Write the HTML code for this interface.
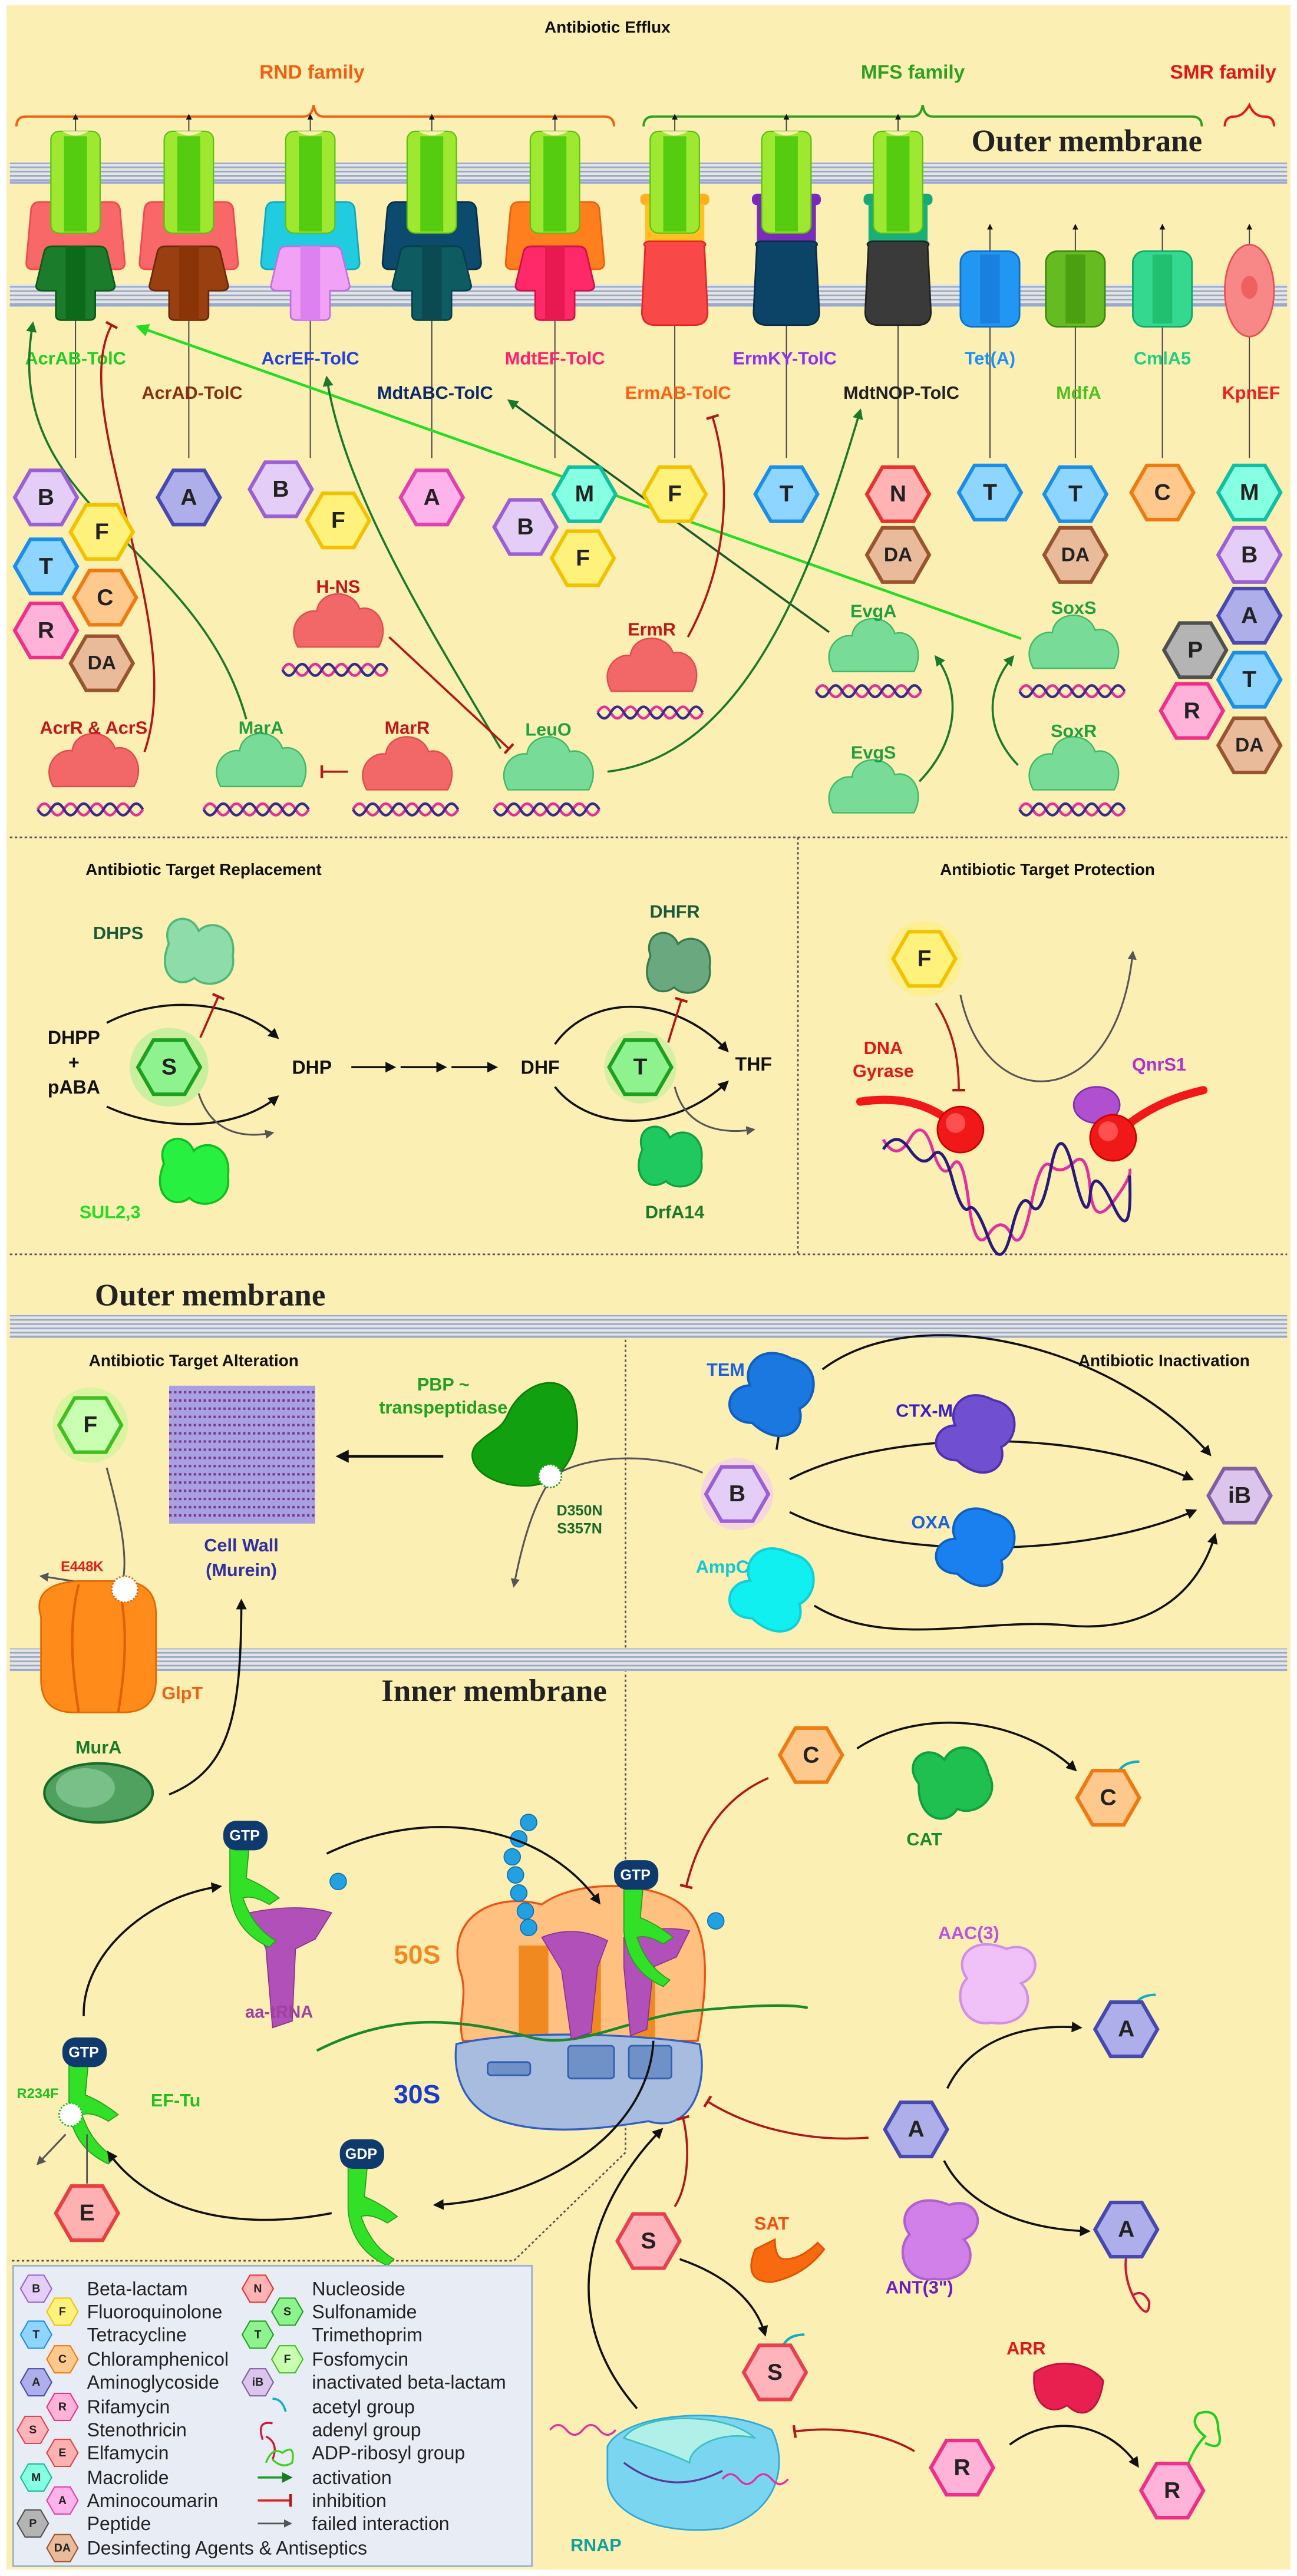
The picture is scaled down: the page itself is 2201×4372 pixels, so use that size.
<!DOCTYPE html>
<html><head><meta charset="utf-8"><style>
html,body{margin:0;padding:0;background:#fff}
svg{display:block}
text{font-family:"Liberation Sans Narrow","Liberation Sans",sans-serif;font-weight:bold}
.hB{fill:#e4cdf6;stroke:#9b5fd6}
.hF{fill:#fff27c;stroke:#f2c200}
.hT{fill:#8ed6ff;stroke:#1a8ee8}
.hC{fill:#ffc98e;stroke:#f07a12}
.hR{fill:#ffb3d9;stroke:#ef2f8a}
.hD{fill:#e9bb9a;stroke:#9a5530}
.hA{fill:#adaeea;stroke:#4849b0}
.hAc{fill:#ffb3ea;stroke:#e040b0}
.hM{fill:#86ffe2;stroke:#10c0a0}
.hN{fill:#ffb3b3;stroke:#e83030}
.hP{fill:#b4b4b4;stroke:#505050}
.hS{fill:#8ef28e;stroke:#20a020}
.hSt{fill:#ffb3bb;stroke:#e84050}
.hE{fill:#ffb0b0;stroke:#e84040}
.hI{fill:#dcc5ec;stroke:#8060a0}
.hFo{fill:#c8ffb0;stroke:#40c020}
.hx{stroke-width:2.2}
.ht{font-size:14px;fill:#222;text-anchor:middle;dominant-baseline:central}
.lbl{font-size:11px;text-anchor:middle}
.leg text{font-size:11.5px;fill:#222;font-weight:normal}
.ttl{font-size:10px;fill:#111}
</style></head><body>
<svg width="2201" height="4372" viewBox="0 0 790 1569" preserveAspectRatio="none" xmlns="http://www.w3.org/2000/svg">
<defs>
<path id="hx" d="M-19,0 L-9.5,-16.5 L9.5,-16.5 L19,0 L9.5,16.5 L-9.5,16.5 Z"/>
<pattern id="mem" width="4" height="2.6" patternUnits="userSpaceOnUse"><rect width="4" height="2.6" fill="#e6e6e0"/><rect y="0" width="4" height="1" fill="#9aa8cc"/></pattern>
<marker id="ak" viewBox="0 0 10 10" refX="8" refY="5" markerWidth="5" markerHeight="5" orient="auto"><path d="M0,0 L10,5 L0,10 Z" fill="#111"/></marker>
<marker id="ag" viewBox="0 0 10 10" refX="8" refY="5" markerWidth="5" markerHeight="5" orient="auto"><path d="M0,0 L10,5 L0,10 Z" fill="#1a7a2a"/></marker>
<marker id="al" viewBox="0 0 10 10" refX="8" refY="5" markerWidth="5" markerHeight="5" orient="auto"><path d="M0,0 L10,5 L0,10 Z" fill="#22dd22"/></marker>
<marker id="agr" viewBox="0 0 10 10" refX="8" refY="5" markerWidth="5" markerHeight="5" orient="auto"><path d="M0,0 L10,5 L0,10 Z" fill="#555"/></marker>
<marker id="bar" viewBox="0 0 10 10" refX="5" refY="5" markerWidth="6" markerHeight="6" orient="auto"><path d="M5,0 L5,10" stroke="#b01818" stroke-width="2"/></marker>
<path id="cloud" d="M-17,9 C-22,0 -15,-7 -9,-6 C-8,-15 6,-16 9,-7 C16,-9 22,0 17,9 Z"/>
<path id="enz" d="M-14,-4 C-18,-16 -4,-20 0,-10 C6,-16 18,-12 16,2 C18,14 4,18 -2,12 C-10,18 -20,10 -14,-4 Z"/>
<g id="dna"><path d="M-32,0 q4,-7 8,0 t8,0 t8,0 t8,0 t8,0 t8,0 t8,0 t8,0" fill="none" stroke="#e0309a" stroke-width="1.6"/><path d="M-32,0 q4,7 8,0 t8,0 t8,0 t8,0 t8,0 t8,0 t8,0 t8,0" fill="none" stroke="#3a2a8a" stroke-width="1.6"/></g>
<g id="tolc"><rect x="-15" y="80" width="30" height="62" rx="5" fill="#9ee832" stroke="#5cc010" stroke-width="0.8"/><rect x="-7" y="83" width="14" height="58" fill="#55cc10"/><path d="M-8,80 q8,5 16,0" fill="#fcefb4"/></g>
<g id="rndb"><path d="M-30,160 L-27,127 Q-26,123 -22,123 L22,123 Q26,123 27,127 L30,160 Q30,164 26,164 L-26,164 Q-30,164 -30,160 Z"/></g>
<g id="rndp"><path d="M-24,174 L-19,153 Q-18,150 -14,150 L14,150 Q18,150 19,153 L24,174 Q24,177 20,177 L12,177 L12,192 Q12,195 8,195 L-8,195 Q-12,195 -12,192 L-12,177 L-20,177 Q-24,177 -24,174 Z"/></g>
</defs>
<rect width="790" height="1569" fill="#fff"/>
<rect x="4" y="3" width="782" height="1562" fill="#fcefb4"/>

<!-- ========== EFFLUX ========== -->
<text x="370" y="20" class="ttl" text-anchor="middle">Antibiotic Efflux</text>
<text x="190" y="48" class="lbl" fill="#f06010" style="font-size:12px">RND family</text>
<text x="556" y="48" class="lbl" fill="#30a020" style="font-size:12px">MFS family</text>
<text x="745" y="48" class="lbl" fill="#e01818" style="font-size:12px">SMR family</text>
<path d="M10,77 q0,-6 6,-6 L185,71 q5,0 6,-7 q1,7 6,7 L368,71 q6,0 6,6" fill="none" stroke="#f06010" stroke-width="1.4"/>
<path d="M392,77 q0,-6 6,-6 L556,71 q5,0 6,-7 q1,7 6,7 L726,71 q6,0 6,6" fill="none" stroke="#30a020" stroke-width="1.4"/>
<path d="M746,77 q0,-6 6,-6 q5,0 9,-7 q3,7 9,7 q6,0 6,6" fill="none" stroke="#e01818" stroke-width="1.4"/>
<text x="662" y="92" style="font-family:'Liberation Serif',serif;font-size:19px" text-anchor="middle" fill="#222">Outer membrane</text>
<rect x="6" y="99" width="778" height="13" fill="url(#mem)"/>
<rect x="6" y="110.5" width="778" height="1.2" fill="#9aa8cc"/>
<rect x="6" y="173" width="778" height="14" fill="url(#mem)"/>
<rect x="6" y="185.5" width="778" height="1.2" fill="#9aa8cc"/>

<g stroke="#444" stroke-width="0.7" fill="none">
<path d="M46,279 V70" marker-end="url(#ak)"/><path d="M115,279 V70" marker-end="url(#ak)"/><path d="M189,279 V70" marker-end="url(#ak)"/><path d="M263,279 V70" marker-end="url(#ak)"/><path d="M338,279 V70" marker-end="url(#ak)"/><path d="M411,279 V70" marker-end="url(#ak)"/><path d="M479,279 V70" marker-end="url(#ak)"/><path d="M547,279 V70" marker-end="url(#ak)"/>
<path d="M603,279 V137" marker-end="url(#ak)"/><path d="M655,279 V137" marker-end="url(#ak)"/><path d="M708,279 V137" marker-end="url(#ak)"/><path d="M761,279 V137" marker-end="url(#ak)"/>
</g>
<g transform="translate(46,0)"><use href="#rndb" fill="#f86868" stroke="#f04a4a"/><use href="#tolc"/><use href="#rndp" fill="#1b7d2b" stroke="#0d5a1a"/><rect x="-6" y="150" width="12" height="45" fill="#0d6a1a"/></g>
<g transform="translate(115,0)"><use href="#rndb" fill="#f86868" stroke="#f04a4a"/><use href="#tolc"/><use href="#rndp" fill="#9a4010" stroke="#6a2a08"/><rect x="-6" y="150" width="12" height="45" fill="#8a3408"/></g>
<g transform="translate(189,0)"><use href="#rndb" fill="#22cce0" stroke="#10a8c0"/><use href="#tolc"/><use href="#rndp" fill="#f2a2f6" stroke="#c070e0"/><rect x="-6" y="150" width="12" height="45" fill="#dd80f0"/></g>
<g transform="translate(263,0)"><use href="#rndb" fill="#0c4a6e" stroke="#08304a"/><use href="#tolc"/><use href="#rndp" fill="#0e5c62" stroke="#08404a"/><rect x="-6" y="150" width="12" height="45" fill="#0a4a50"/></g>
<g transform="translate(338,0)"><use href="#rndb" fill="#ff7e1e" stroke="#e86010"/><use href="#tolc"/><use href="#rndp" fill="#ff2868" stroke="#d01048"/><rect x="-6" y="150" width="12" height="45" fill="#e81850"/></g>
<g transform="translate(411,0)"><rect x="-21" y="118" width="42" height="7" rx="3" fill="#ffb01e"/><path d="M-18,124 h36 v28 h-36 Z" fill="#ffc020"/><use href="#tolc"/><path d="M-18,150 Q-20,148 -16,147 h32 q4,1 2,3 L20,190 q0,8 -8,8 h-24 q-8,0 -8,-8 Z" fill="#f84848" stroke="#e02828"/></g>
<g transform="translate(479,0)"><rect x="-21" y="118" width="42" height="7" rx="3" fill="#7a28c0"/><path d="M-18,124 h36 v28 h-36 Z" fill="#7a2eb8"/><use href="#tolc"/><path d="M-18,150 Q-20,148 -16,147 h32 q4,1 2,3 L20,190 q0,8 -8,8 h-24 q-8,0 -8,-8 Z" fill="#0c4468" stroke="#082c48"/></g>
<g transform="translate(547,0)"><rect x="-21" y="118" width="42" height="7" rx="3" fill="#1aa878"/><path d="M-18,124 h36 v28 h-36 Z" fill="#18b078"/><use href="#tolc"/><path d="M-18,150 Q-20,148 -16,147 h32 q4,1 2,3 L20,190 q0,8 -8,8 h-24 q-8,0 -8,-8 Z" fill="#3a3a3a" stroke="#222"/></g>
<rect x="585" y="153" width="36" height="46" rx="7" fill="#2196f3" stroke="#0a70c8"/><rect x="597" y="155" width="12" height="42" fill="#1a80e0"/>
<rect x="637" y="153" width="36" height="46" rx="7" fill="#66bb22" stroke="#3a8a10"/><rect x="649" y="155" width="12" height="42" fill="#4aa010"/>
<rect x="690" y="153" width="36" height="46" rx="7" fill="#34d88e" stroke="#10a868"/><rect x="702" y="155" width="12" height="42" fill="#20c070"/>
<ellipse cx="761" cy="177" rx="15" ry="28" fill="#f88888" stroke="#e85050"/><ellipse cx="761" cy="175" rx="5" ry="7" fill="#f06060"/>

<text x="46" y="222" class="lbl" fill="#22cc22">AcrAB-TolC</text>
<text x="117" y="243" class="lbl" fill="#8a3010">AcrAD-TolC</text>
<text x="189" y="222" class="lbl" fill="#2040e0">AcrEF-TolC</text>
<text x="265" y="243" class="lbl" fill="#0a2a6a">MdtABC-TolC</text>
<text x="338" y="222" class="lbl" fill="#ff2070">MdtEF-TolC</text>
<text x="413" y="243" class="lbl" fill="#ff6010">ErmAB-TolC</text>
<text x="478" y="222" class="lbl" fill="#9030f0">ErmKY-TolC</text>
<text x="549" y="243" class="lbl" fill="#222">MdtNOP-TolC</text>
<text x="603" y="222" class="lbl" fill="#1a90ff">Tet(A)</text>
<text x="657" y="243" class="lbl" fill="#50c020">MdfA</text>
<text x="708" y="222" class="lbl" fill="#20d080">CmlA5</text>
<text x="762" y="243" class="lbl" fill="#f02020">KpnEF</text>

<g fill="none" stroke-width="1.3">
<path d="M150,438 C120,330 0,310 20,197" stroke="#1a7a2a" marker-end="url(#ag)"/>
<path d="M88,458 C115,380 40,250 68,198" stroke="#b01818" marker-end="url(#bar)"/>
<path d="M622,389 L84,199" stroke="#22dd22" stroke-width="1.6" marker-end="url(#al)"/>
<path d="M505,385 L310,244" stroke="#1a5a2a" marker-end="url(#ag)"/>
<path d="M305,456 C260,380 210,300 199,230" stroke="#1a7a2a" marker-end="url(#ag)"/>
<path d="M370,470 C460,460 500,330 524,250" stroke="#1a7a2a" marker-end="url(#ag)"/>
<path d="M237,388 L310,456" stroke="#b01818" marker-end="url(#bar)"/>
<path d="M212,470 L196,470" stroke="#b01818" marker-end="url(#bar)"/>
<path d="M419,388 C445,340 445,290 434,254" stroke="#b01818" marker-end="url(#bar)"/>
<path d="M560,476 C585,450 585,420 570,400" stroke="#1a7a2a" marker-end="url(#ag)"/>
<path d="M620,466 C600,445 600,420 617,400" stroke="#1a7a2a" marker-end="url(#ag)"/>
</g>

<g fill="#f26868" stroke="#e04c4c" stroke-width="0.6">
<use href="#cloud" transform="translate(206,381) scale(1.45)"/><use href="#cloud" transform="translate(397,408) scale(1.45)"/><use href="#cloud" transform="translate(57,466) scale(1.45)"/><use href="#cloud" transform="translate(248,468) scale(1.45)"/></g>
<g fill="#78dc98" stroke="#40b868" stroke-width="0.6">
<use href="#cloud" transform="translate(532,396) scale(1.45)"/><use href="#cloud" transform="translate(654,394) scale(1.45)"/><use href="#cloud" transform="translate(159,466) scale(1.45)"/><use href="#cloud" transform="translate(334,468) scale(1.45)"/><use href="#cloud" transform="translate(532,482) scale(1.45)"/><use href="#cloud" transform="translate(654,468) scale(1.45)"/></g>
<use href="#dna" x="204" y="408"/><use href="#dna" x="396" y="434"/><use href="#dna" x="529" y="421"/><use href="#dna" x="653" y="421"/><use href="#dna" x="55" y="493"/><use href="#dna" x="156" y="493"/><use href="#dna" x="247" y="493"/><use href="#dna" x="333" y="493"/><use href="#dna" x="653" y="493"/>
<g class="lbl" style="font-size:11px">
<text x="206" y="361" fill="#c01818">H-NS</text><text x="397" y="387" fill="#c01818">ErmR</text><text x="532" y="376" fill="#20a040">EvgA</text><text x="654" y="374" fill="#20a040">SoxS</text>
<text x="57" y="447" fill="#c01818">AcrR &amp; AcrS</text><text x="159" y="447" fill="#20a040">MarA</text><text x="248" y="447" fill="#c01818">MarR</text><text x="334" y="448" fill="#20a040">LeuO</text><text x="532" y="462" fill="#20a040">EvgS</text><text x="654" y="449" fill="#20a040">SoxR</text>
</g>

<g class="hx">
<use href="#hx" x="28" y="303" class="hB"/><use href="#hx" x="62" y="324" class="hF"/><use href="#hx" x="28" y="345" class="hT"/><use href="#hx" x="64" y="364" class="hC"/><use href="#hx" x="28" y="384" class="hR"/><use href="#hx" x="62" y="404" class="hD"/>
<use href="#hx" x="115" y="303" class="hA"/><use href="#hx" x="171" y="298" class="hB"/><use href="#hx" x="206" y="317" class="hF"/><use href="#hx" x="263" y="303" class="hAc"/>
<use href="#hx" x="356" y="301" class="hM"/><use href="#hx" x="320" y="321" class="hB"/><use href="#hx" x="355" y="340" class="hF"/>
<use href="#hx" x="411" y="301" class="hF"/><use href="#hx" x="479" y="301" class="hT"/><use href="#hx" x="547" y="301" class="hN"/><use href="#hx" x="547" y="338" class="hD"/>
<use href="#hx" x="603" y="300" class="hT"/><use href="#hx" x="655" y="301" class="hT"/><use href="#hx" x="655" y="338" class="hD"/><use href="#hx" x="708" y="300" class="hC"/>
<use href="#hx" x="761" y="300" class="hM"/><use href="#hx" x="761" y="338" class="hB"/><use href="#hx" x="761" y="375" class="hA"/><use href="#hx" x="728" y="396" class="hP"/><use href="#hx" x="761" y="414" class="hT"/><use href="#hx" x="726" y="433" class="hR"/><use href="#hx" x="761" y="454" class="hD"/>
</g>
<g class="ht">
<text x="28" y="303">B</text><text x="62" y="324">F</text><text x="28" y="345">T</text><text x="64" y="364">C</text><text x="28" y="384">R</text><text x="62" y="404" style="font-size:12px">DA</text>
<text x="115" y="303">A</text><text x="171" y="298">B</text><text x="206" y="317">F</text><text x="263" y="303">A</text>
<text x="356" y="301">M</text><text x="320" y="321">B</text><text x="355" y="340">F</text>
<text x="411" y="301">F</text><text x="479" y="301">T</text><text x="547" y="301">N</text><text x="547" y="338" style="font-size:12px">DA</text>
<text x="603" y="300">T</text><text x="655" y="301">T</text><text x="655" y="338" style="font-size:12px">DA</text><text x="708" y="300">C</text>
<text x="761" y="300">M</text><text x="761" y="338">B</text><text x="761" y="375">A</text><text x="728" y="396">P</text><text x="761" y="414">T</text><text x="726" y="433">R</text><text x="761" y="454" style="font-size:12px">DA</text>
</g>

<g stroke="#555" stroke-width="1" stroke-dasharray="1.5,1.5" fill="none">
<path d="M6,510 H784"/><path d="M486,510 V764"/><path d="M6,764 H784"/>
<path d="M381,801 V1311 L313,1377 H6"/>
</g>

<text x="124" y="533" class="ttl" text-anchor="middle">Antibiotic Target Replacement</text>
<text x="638" y="533" class="ttl" text-anchor="middle">Antibiotic Target Protection</text>
<use href="#enz" transform="translate(121,580) scale(1.3)" fill="#8edcaa" stroke="#50b878"/>
<use href="#enz" transform="translate(413,587) scale(1.2)" fill="#6aa880" stroke="#3a7a50"/>
<use href="#enz" transform="translate(118,714) scale(1.3)" fill="#28f040" stroke="#10c020"/>
<use href="#enz" transform="translate(408,705) scale(1.2)" fill="#20c860" stroke="#10a040"/>
<g class="lbl" style="font-size:11px">
<text x="72" y="572" fill="#1a5a3a">DHPS</text><text x="411" y="559" fill="#1a5a3a">DHFR</text><text x="67" y="742" fill="#22dd22">SUL2,3</text><text x="411" y="742" fill="#1a7a2a">DrfA14</text>
</g>
<g class="lbl" style="font-size:11.5px" fill="#111">
<text x="45" y="636">DHPP</text><text x="45" y="651">+</text><text x="45" y="666">pABA</text><text x="190" y="654">DHP</text><text x="329" y="654">DHF</text><text x="459" y="652">THF</text>
</g>
<g fill="none" stroke="#111" stroke-width="1.3">
<path d="M65,623 C100,605 145,610 169,632" marker-end="url(#ak)"/>
<path d="M65,674 C100,690 145,688 169,668" marker-end="url(#ak)"/>
<path d="M338,636 C360,605 410,605 443,640" marker-end="url(#ak)"/>
<path d="M338,662 C360,690 410,690 443,659" marker-end="url(#ak)"/>
<path d="M214,650 H240" marker-end="url(#ak)"/><path d="M244,650 H271" marker-end="url(#ak)"/><path d="M275,650 H302" marker-end="url(#ak)"/>
</g>
<path d="M121,666 C128,688 145,694 166,690" fill="none" stroke="#555" stroke-width="1.1" marker-end="url(#agr)"/>
<path d="M411,662 C416,682 432,692 459,688" fill="none" stroke="#555" stroke-width="1.1" marker-end="url(#agr)"/>
<path d="M122,632 L133,607" stroke="#b01818" stroke-width="1.3" marker-end="url(#bar)"/>
<path d="M407,635 L415,609" stroke="#b01818" stroke-width="1.3" marker-end="url(#bar)"/>
<circle cx="103" cy="650" r="24" fill="#7cf27c" opacity="0.4"/>
<circle cx="390" cy="650" r="22" fill="#7cf27c" opacity="0.3"/>
<use href="#hx" x="103" y="650" class="hS hx"/><text x="103" y="650" class="ht">S</text>
<use href="#hx" x="390" y="650" class="hS hx"/><text x="390" y="650" class="ht">T</text>

<circle cx="563" cy="584" r="23" fill="#fff060" opacity="0.4"/>
<use href="#hx" x="563" y="584" class="hF hx"/><text x="563" y="584" class="ht">F</text>
<text x="538" y="642" class="lbl" fill="#e01818" style="font-size:11px">DNA</text>
<text x="538" y="656" class="lbl" fill="#e01818" style="font-size:11px">Gyrase</text>
<text x="706" y="652" class="lbl" fill="#b030d0" style="font-size:11px">QnrS1</text>
<path d="M570,611 C582,630 584,648 584,664" fill="none" stroke="#b01818" stroke-width="1.3" marker-end="url(#bar)"/>
<path d="M585,606 C600,680 680,680 690,580" fill="none" stroke="#555" stroke-width="1.1" marker-end="url(#agr)"/>
<path d="M538,694 q8,14 16,0 t14,6 t12,10 t10,22 t12,20 t14,0 t12,-18 t12,-24 t14,-2 t10,16 t14,8 t10,-20" fill="none" stroke="#e030a0" stroke-width="1.8"/>
<path d="M538,700 q8,-12 16,0 t14,4 t12,14 t10,18 t12,18 t14,-4 t12,-16 t12,-22 t14,2 t10,14 t14,6 t10,-18" fill="none" stroke="#2a1a7a" stroke-width="1.8"/>
<path d="M524,671 C545,668 565,670 585,688" fill="none" stroke="#f01818" stroke-width="5" stroke-linecap="round"/>
<path d="M678,693 C695,676 715,668 733,664" fill="none" stroke="#f01818" stroke-width="5" stroke-linecap="round"/>
<ellipse cx="668" cy="673" rx="14" ry="11" fill="#b050d0" stroke="#8030b0"/>
<circle cx="585" cy="688" r="14" fill="#f01818" stroke="#c00"/><circle cx="582" cy="684" r="6" fill="#ff5050"/>
<circle cx="678" cy="693" r="14" fill="#f01818" stroke="#c00"/><circle cx="675" cy="689" r="6" fill="#ff5050"/>

<text x="128" y="795" style="font-family:'Liberation Serif',serif;font-size:19px" text-anchor="middle" fill="#222">Outer membrane</text>
<rect x="6" y="801" width="778" height="14" fill="url(#mem)"/><rect x="6" y="813.5" width="778" height="1.2" fill="#9aa8cc"/>
<rect x="6" y="1004" width="778" height="14" fill="url(#mem)"/><rect x="6" y="1016.5" width="778" height="1.2" fill="#9aa8cc"/>
<text x="301" y="1036" style="font-family:'Liberation Serif',serif;font-size:19px" text-anchor="middle" fill="#222">Inner membrane</text>
<text x="118" y="832" class="ttl" text-anchor="middle">Antibiotic Target Alteration</text>
<text x="709" y="832" class="ttl" text-anchor="middle">Antibiotic Inactivation</text>
<rect x="103" y="844" width="89" height="84" fill="#a8a0e0"/>
<g stroke="#7a3a9a" stroke-width="1.5" stroke-dasharray="1.5,1.5"><path d="M103,848 H192 M103,853 H192 M103,858 H192 M103,863 H192 M103,868 H192 M103,873 H192 M103,878 H192 M103,883 H192 M103,888 H192 M103,893 H192 M103,898 H192 M103,903 H192 M103,908 H192 M103,913 H192 M103,918 H192 M103,923 H192"/></g>
<text x="147" y="945" class="lbl" fill="#3030a0" style="font-size:11px">Cell Wall</text>
<text x="147" y="960" class="lbl" fill="#3030a0" style="font-size:11px">(Murein)</text>
<circle cx="55" cy="868" r="23" fill="#a0ff80" opacity="0.35"/>
<use href="#hx" x="55" y="868" class="hFo hx"/><text x="55" y="868" class="ht">F</text>
<path d="M65,894 C72,920 78,945 75,962 C65,968 40,962 25,960" fill="none" stroke="#555" stroke-width="1.1" marker-end="url(#agr)"/>
<path d="M25,985 q-6,-20 22,-22 h30 q18,2 18,20 v40 q0,20 -20,20 h-30 q-20,0 -20,-20 Z" fill="#ff8c1a" stroke="#e06a00"/>
<path d="M48,965 q-8,30 0,78 M72,965 q8,30 0,78" stroke="#e06000" stroke-width="1.5" fill="none"/>
<circle cx="76" cy="968" r="8" fill="#fff" stroke="#f06010" stroke-dasharray="1,1"/>
<text x="50" y="957" class="lbl" fill="#e02010" style="font-size:8.5px">E448K</text>
<text x="111" y="1035" class="lbl" fill="#f06010" style="font-size:11px">GlpT</text>
<text x="270" y="847" class="lbl" fill="#22a022" style="font-size:11px">PBP ~</text>
<text x="270" y="861" class="lbl" fill="#22a022" style="font-size:11px">transpeptidase</text>
<path d="M310,860 C320,840 345,835 350,855 C356,880 345,905 320,905 C295,905 282,890 290,880 C300,870 305,872 310,860 Z" fill="#10a010" stroke="#0a800a"/>
<path d="M270,887 H206" stroke="#111" stroke-width="1.6" marker-end="url(#ak)"/>
<path d="M428,897 C400,885 360,885 337,899 C325,915 318,940 313,966" fill="none" stroke="#555" stroke-width="1.1" marker-end="url(#agr)"/>
<circle cx="335" cy="899" r="7" fill="#fff" stroke="#10a010" stroke-dasharray="1,1"/>
<text x="353" y="923" class="lbl" fill="#1a6a2a" style="font-size:9px">D350N</text>
<text x="353" y="934" class="lbl" fill="#1a6a2a" style="font-size:9px">S357N</text>
<g fill="none" stroke="#111" stroke-width="1.3">
<path d="M501,834 C560,790 680,820 737,886" marker-end="url(#ak)"/>
<path d="M481,901 C540,870 660,870 726,901" marker-end="url(#ak)"/>
<path d="M481,921 C540,950 660,950 728,920" marker-end="url(#ak)"/>
<path d="M496,978 C540,1005 600,985 650,990 C700,995 730,970 740,935" marker-end="url(#ak)"/>
<path d="M473,883 L475,870 M471,945 L473,958"/>
</g>
<use href="#enz" transform="translate(471,849) scale(1.5) rotate(-70)" fill="#1a78e0" stroke="#1060c0"/>
<use href="#enz" transform="translate(595,873) scale(1.4) rotate(-70)" fill="#7050d0" stroke="#5030b0"/>
<use href="#enz" transform="translate(595,942) scale(1.4) rotate(-70)" fill="#1a80f0" stroke="#1060c0"/>
<use href="#enz" transform="translate(471,968) scale(1.5) rotate(-70)" fill="#10f0f0" stroke="#10d0d8"/>
<g class="lbl" style="font-size:11px">
<text x="442" y="838" fill="#1a60e0">TEM</text><text x="563" y="863" fill="#3a20c0">CTX-M</text><text x="567" y="931" fill="#1a60e0">OXA</text><text x="440" y="958" fill="#10c8d0">AmpC</text>
</g>
<circle cx="449" cy="910" r="22" fill="#f0c0ff" opacity="0.5"/>
<use href="#hx" x="449" y="910" class="hB hx"/><text x="449" y="910" class="ht">B</text>
<use href="#hx" x="755" y="911" class="hI hx"/><text x="755" y="911" class="ht">iB</text>

<text x="60" y="1068" class="lbl" fill="#1a7a2a" style="font-size:11px">MurA</text>
<ellipse cx="60" cy="1092" rx="33" ry="18" fill="#50a060" stroke="#1a6a2a" stroke-width="1.5"/><ellipse cx="52" cy="1089" rx="18" ry="12" fill="#78c088"/>
<path d="M103,1093 C140,1078 147,1045 147,975" fill="none" stroke="#111" stroke-width="1.3" marker-end="url(#ak)"/>

<path d="M280,1200 C272,1168 300,1152 330,1160 C350,1145 395,1145 415,1160 C432,1172 432,1205 425,1243 L282,1243 C278,1230 286,1215 280,1200 Z" fill="#ffc080" stroke="#f05010" stroke-width="1.2"/>
<rect x="316" y="1185" width="18" height="58" fill="#f08a20"/><rect x="352" y="1185" width="14" height="58" fill="#f08a20"/><rect x="385" y="1185" width="14" height="58" fill="#f08a20"/>
<path d="M278,1245 C320,1235 400,1240 426,1245 C432,1270 420,1300 395,1292 C370,1296 330,1302 300,1290 C280,1280 276,1260 278,1245 Z" fill="#a8bce0" stroke="#3060c0" stroke-width="1.2"/>
<rect x="297" y="1256" width="26" height="8" rx="2" fill="#7090c8" stroke="#3060b0"/><rect x="346" y="1246" width="28" height="20" rx="2" fill="#7090c8" stroke="#3060b0"/><rect x="383" y="1246" width="26" height="20" rx="2" fill="#7090c8" stroke="#3060b0"/>
<path d="M193,1249 C240,1225 280,1230 320,1240 C350,1250 380,1230 420,1225 C450,1222 480,1220 492,1223" fill="none" stroke="#1a8a2a" stroke-width="1.6"/>
<g fill="#b050b8" stroke="#8a3090" stroke-width="0.6">
<path d="M330,1180 q20,-8 40,2 l-6,16 l-4,40 l-12,4 l-6,-42 Z"/><path d="M380,1180 q20,-8 40,-4 l-8,16 l-14,6 l-4,38 l-10,4 l-4,-42 Z"/>
<path d="M152,1165 q30,-6 50,0 l-10,16 l-12,6 l-2,44 l-12,4 l-4,-48 Z"/>
</g>
<g fill="#22a0e0" stroke="#1070b0" stroke-width="0.6">
<circle cx="322" cy="1110" r="5"/><circle cx="316" cy="1120" r="5"/><circle cx="312" cy="1131" r="5"/><circle cx="314" cy="1142" r="5"/><circle cx="316" cy="1153" r="5"/><circle cx="320" cy="1164" r="5"/><circle cx="322" cy="1174" r="5"/>
<circle cx="436" cy="1170" r="5"/><circle cx="206" cy="1146" r="5"/>
</g>
<g fill="#33e028" stroke="#20a018" stroke-width="0.6">
<path d="M140,1122 l12,0 l-2,22 q10,4 20,12 l-6,4 q-10,-6 -16,-4 q6,18 20,26 l-4,4 q-22,-10 -24,-34 Z"/>
<path d="M380,1146 l12,0 l-2,22 q10,4 20,12 l-6,4 q-10,-6 -16,-4 q6,18 20,26 l-4,4 q-22,-10 -24,-34 Z"/>
<path d="M42,1254 l12,0 l-2,22 q10,4 20,12 l-6,4 q-10,-6 -16,-4 q6,18 20,26 l-4,4 q-22,-10 -24,-34 Z"/>
<path d="M212,1316 l12,0 l-2,22 q10,4 20,12 l-6,4 q-10,-6 -16,-4 q6,18 20,26 l-4,4 q-22,-10 -24,-34 Z"/>
</g>
<g fill="#0e3a6e"><rect x="136" y="1109" width="27" height="18" rx="8"/><rect x="374" y="1133" width="27" height="18" rx="8"/><rect x="38" y="1241" width="27" height="18" rx="8"/><rect x="207" y="1303" width="27" height="18" rx="8"/></g>
<g fill="#fff" style="font-size:9px" text-anchor="middle"><text x="149" y="1121">GTP</text><text x="387" y="1145">GTP</text><text x="51" y="1253">GTP</text><text x="220" y="1315">GDP</text></g>
<text x="254" y="1196" class="lbl" fill="#f08a20" style="font-size:16px">50S</text>
<text x="254" y="1281" class="lbl" fill="#1a3ad0" style="font-size:16px">30S</text>
<text x="170" y="1229" class="lbl" fill="#a040a0" style="font-size:10.5px">aa-tRNA</text>
<text x="107" y="1283" class="lbl" fill="#20c020" style="font-size:11px">EF-Tu</text>
<text x="23" y="1278" class="lbl" fill="#20c020" style="font-size:8.5px">R234F</text>
<circle cx="43" cy="1288" r="7" fill="#fff" stroke="#20c020" stroke-dasharray="1,1"/>
<g fill="none" stroke="#111" stroke-width="1.3">
<path d="M51,1228 C50,1190 90,1155 134,1149" marker-end="url(#ak)"/>
<path d="M199,1129 C260,1100 330,1110 365,1159" marker-end="url(#ak)"/>
<path d="M398,1243 C395,1300 330,1340 265,1343" marker-end="url(#ak)"/>
<path d="M202,1348 C140,1360 90,1345 66,1311" marker-end="url(#ak)"/>
<path d="M522,1065 C560,1040 620,1045 655,1078" marker-end="url(#ak)"/>
<path d="M577,1272 C590,1245 620,1232 658,1235" marker-end="url(#ak)"/>
<path d="M575,1316 C590,1345 625,1358 663,1359" marker-end="url(#ak)"/>
<path d="M414,1376 C440,1385 460,1400 466,1422" marker-end="url(#ak)"/>
<path d="M388,1467 C330,1400 370,1330 403,1297" marker-end="url(#ak)"/>
<path d="M615,1489 C640,1470 675,1475 693,1502" marker-end="url(#ak)"/>
</g>
<path d="M40,1300 L23,1318" stroke="#555" stroke-width="1.1" marker-end="url(#agr)"/>
<path d="M53,1330 V1300" stroke="#555" stroke-width="1"/>
<g fill="none" stroke="#b01818" stroke-width="1.3">
<path d="M468,1083 C440,1095 425,1120 418,1149" marker-end="url(#bar)"/>
<path d="M529,1302 C490,1305 455,1295 431,1280" marker-end="url(#bar)"/>
<path d="M411,1344 C420,1330 420,1305 416,1290" marker-end="url(#bar)"/>
<path d="M557,1493 C535,1480 505,1478 484,1481" marker-end="url(#bar)"/>
</g>
<use href="#enz" transform="translate(580,1085) scale(1.4) rotate(-20)" fill="#20c050" stroke="#10a040"/>
<use href="#enz" transform="translate(607,1208) scale(1.5) rotate(90)" fill="#f0c0f8" stroke="#d090e8"/>
<use href="#enz" transform="translate(572,1364) scale(1.5) rotate(90)" fill="#d080e8" stroke="#b060d0"/>
<path d="M460,1370 q-8,20 10,20 q20,-4 32,-20 l-4,-4 q-10,10 -20,10 q-6,0 -6,-12 Z" fill="#f86a10" stroke="#e05000"/>
<path d="M630,1445 C645,1435 665,1440 672,1450 C670,1468 660,1475 650,1465 C640,1472 628,1465 630,1445 Z" fill="#e82050" stroke="#c01040"/>
<g class="lbl" style="font-size:11px">
<text x="563" y="1124" fill="#1a8a2a">CAT</text><text x="590" y="1181" fill="#c050e0">AAC(3)</text><text x="560" y="1397" fill="#6a20c0">ANT(3")</text><text x="470" y="1358" fill="#f05010">SAT</text><text x="625" y="1434" fill="#e01818">ARR</text><text x="363" y="1554" fill="#10a0a0">RNAP</text>
</g>
<path d="M370,1490 C380,1470 440,1465 470,1480 C480,1500 475,1530 440,1540 C400,1545 370,1530 370,1510 Z" fill="#7ad6f0" stroke="#30a8d8"/>
<path d="M380,1485 C390,1470 440,1468 460,1485 C440,1480 420,1490 420,1500 C410,1495 395,1490 380,1485 Z" fill="#b0f0e8" stroke="#40c0c0"/>
<path d="M335,1480 q5,-6 10,0 t10,0 t10,0 t10,0 M440,1510 q5,-6 10,0 t10,0 t10,0 t10,0" fill="none" stroke="#e030a0" stroke-width="1.2"/>
<path d="M380,1500 C400,1515 420,1515 440,1505" fill="none" stroke="#5a3a9a" stroke-width="1.2"/>
<path d="M680,1083 q2,-10 14,-10" fill="none" stroke="#10b0c0" stroke-width="1.5"/>
<path d="M690,1225 q2,-10 14,-10" fill="none" stroke="#10b0c0" stroke-width="1.5"/>
<path d="M476,1432 q2,-10 14,-10" fill="none" stroke="#10b0c0" stroke-width="1.5"/>
<path d="M686,1374 q-2,14 6,28 q8,12 8,0 q-4,-8 -10,-4" fill="none" stroke="#d01838" stroke-width="1.4"/>
<path d="M722,1506 q4,-14 12,-22 q-10,-8 -4,-14 q12,-4 12,10 q4,14 -8,8" fill="none" stroke="#20d020" stroke-width="1.5"/>
<g class="hx">
<use href="#hx" x="494" y="1069" class="hC"/><use href="#hx" x="675" y="1095" class="hC"/>
<use href="#hx" x="686" y="1236" class="hA"/><use href="#hx" x="558" y="1297" class="hA"/><use href="#hx" x="686" y="1358" class="hA"/>
<use href="#hx" x="53" y="1348" class="hE"/><use href="#hx" x="395" y="1365" class="hSt"/><use href="#hx" x="472" y="1445" class="hSt"/>
<use href="#hx" x="586" y="1503" class="hR"/><use href="#hx" x="714" y="1517" class="hR"/>
</g>
<g class="ht">
<text x="494" y="1069">C</text><text x="675" y="1095">C</text><text x="686" y="1236">A</text><text x="558" y="1297">A</text><text x="686" y="1358">A</text>
<text x="53" y="1348">E</text><text x="395" y="1365">S</text><text x="472" y="1445">S</text><text x="586" y="1503">R</text><text x="714" y="1517">R</text>
</g>

<rect x="8" y="1380" width="316" height="183" fill="#e8ecf4" stroke="#9ab0d0" stroke-width="1"/>
<g class="hx" style="stroke-width:1.5">
<use href="#hx" transform="translate(22,1394) scale(0.5)" class="hB"/><use href="#hx" transform="translate(38,1408) scale(0.5)" class="hF"/><use href="#hx" transform="translate(22,1422) scale(0.5)" class="hT"/><use href="#hx" transform="translate(38,1437) scale(0.5)" class="hC"/><use href="#hx" transform="translate(22,1451) scale(0.5)" class="hA"/><use href="#hx" transform="translate(38,1466) scale(0.5)" class="hR"/><use href="#hx" transform="translate(20,1480) scale(0.5)" class="hSt"/><use href="#hx" transform="translate(38,1494) scale(0.5)" class="hE"/><use href="#hx" transform="translate(22,1509) scale(0.5)" class="hM"/><use href="#hx" transform="translate(38,1523) scale(0.5)" class="hAc"/><use href="#hx" transform="translate(20,1537) scale(0.5)" class="hP"/><use href="#hx" transform="translate(38,1552) scale(0.5)" class="hD"/>
<use href="#hx" transform="translate(157,1394) scale(0.5)" class="hN"/><use href="#hx" transform="translate(175,1408) scale(0.5)" class="hS"/><use href="#hx" transform="translate(157,1422) scale(0.5)" class="hS"/><use href="#hx" transform="translate(175,1437) scale(0.5)" class="hFo"/><use href="#hx" transform="translate(157,1451) scale(0.5)" class="hI"/>
</g>
<g style="font-size:7px;fill:#222" text-anchor="middle" dominant-baseline="central">
<text x="22" y="1394">B</text><text x="38" y="1408">F</text><text x="22" y="1422">T</text><text x="38" y="1437">C</text><text x="22" y="1451">A</text><text x="38" y="1466">R</text><text x="20" y="1480">S</text><text x="38" y="1494">E</text><text x="22" y="1509">M</text><text x="38" y="1523">A</text><text x="20" y="1537">P</text><text x="38" y="1552">DA</text>
<text x="157" y="1394">N</text><text x="175" y="1408">S</text><text x="157" y="1422">T</text><text x="175" y="1437">F</text><text x="157" y="1451">iB</text>
</g>
<g class="leg" dominant-baseline="central">
<text x="53" y="1394">Beta-lactam</text><text x="53" y="1408">Fluoroquinolone</text><text x="53" y="1422">Tetracycline</text><text x="53" y="1437">Chloramphenicol</text><text x="53" y="1451">Aminoglycoside</text><text x="53" y="1466">Rifamycin</text><text x="53" y="1480">Stenothricin</text><text x="53" y="1494">Elfamycin</text><text x="53" y="1509">Macrolide</text><text x="53" y="1523">Aminocoumarin</text><text x="53" y="1537">Peptide</text><text x="53" y="1552">Desinfecting Agents &amp; Antiseptics</text>
<text x="190" y="1394">Nucleoside</text><text x="190" y="1408">Sulfonamide</text><text x="190" y="1422">Trimethoprim</text><text x="190" y="1437">Fosfomycin</text><text x="190" y="1451">inactivated beta-lactam</text><text x="190" y="1466">acetyl group</text><text x="190" y="1480">adenyl group</text><text x="190" y="1494">ADP-ribosyl group</text><text x="190" y="1509">activation</text><text x="190" y="1523">inhibition</text><text x="190" y="1537">failed interaction</text>
</g>
<path d="M166,1461 q6,0 8,8" fill="none" stroke="#10b0c0" stroke-width="1.3"/>
<path d="M160,1486 q-4,-12 6,-10 M162,1484 q8,4 4,14" fill="none" stroke="#d01838" stroke-width="1.2"/>
<path d="M162,1500 q4,-10 10,-6 q8,-6 6,6 q-6,4 -12,-2" fill="none" stroke="#40d020" stroke-width="1.2"/>
<path d="M157,1509 H177" stroke="#1a9a2a" stroke-width="1.3" marker-end="url(#ag)"/>
<path d="M157,1523 H177" stroke="#e02020" stroke-width="1.3" marker-end="url(#bar)"/>
<path d="M157,1537 H177" stroke="#555" stroke-width="1" marker-end="url(#agr)"/>
</svg>
</body></html>
